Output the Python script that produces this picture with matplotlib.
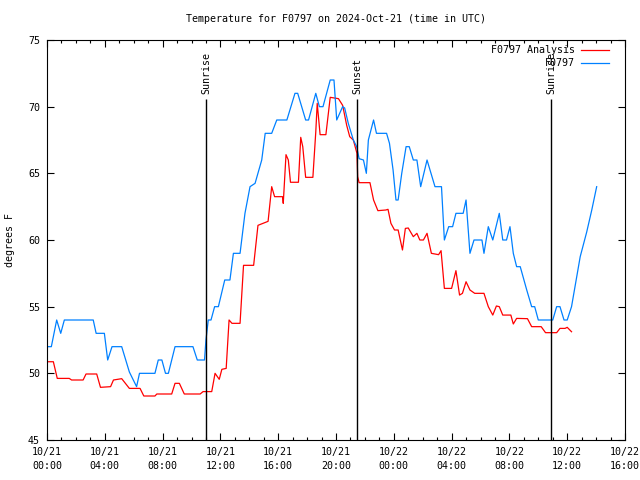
import matplotlib
matplotlib.use("Agg")
import matplotlib.pyplot as plt
import matplotlib.dates as mdates
import pandas as pd

# ---- data (hours after 2024-10-21 00:00 UTC, degrees F) ----
obs_hours = [0.0, 0.3, 0.67, 0.95, 1.2, 3.2, 3.4, 3.97, 4.2, 4.5, 5.17, 5.7, 6.2, 6.4,
             7.47, 7.7, 7.95, 8.2, 8.4, 8.86, 10.1, 10.4, 10.9, 11.0, 11.16, 11.35, 11.6,
             11.86, 12.3, 12.66, 12.9, 13.36, 13.7, 14.05, 14.4, 14.86, 15.1, 15.55, 15.9,
             16.6, 17.16, 17.35, 17.9, 18.1, 18.6, 18.85, 19.1, 19.6, 19.86, 20.05, 20.46,
             20.6, 20.85, 21.2, 21.43, 21.6, 21.9, 22.1, 22.24, 22.6, 22.8, 23.5, 23.7,
             23.95, 24.15, 24.3, 24.55, 24.85, 25.07, 25.35, 25.6, 25.86, 26.3, 26.85,
             27.3, 27.5, 27.8, 28.07, 28.3, 28.8, 29.0, 29.27, 29.55, 30.1, 30.24, 30.54,
             30.85, 31.3, 31.54, 31.8, 32.04, 32.27, 32.5, 32.75, 33.2, 33.54, 33.75, 34.0,
             35.0, 35.27, 35.5, 35.78, 36.0, 36.3, 36.9, 37.35, 37.7, 38.04]
obs_temp = [52, 52, 54, 53, 54, 54, 53, 53, 51, 52, 52, 50.1, 49, 50,
            50, 51, 51, 50, 50, 52, 52, 51, 51, 52.5, 54, 54, 55,
            55, 57, 57, 59, 59, 62, 64, 64.25, 66, 68, 68, 69,
            69, 71, 71, 69, 69, 71, 70, 70, 72, 72, 69, 70,
            69.9, 68.75, 67.5, 67, 66.1, 66, 65, 67.5, 69, 68, 68, 67.25,
            65.25, 63, 63, 65, 67, 67, 66, 66, 64, 66, 64,
            64, 60, 61, 61, 62, 62, 63, 59, 60, 60, 59, 61,
            60, 62, 60, 60, 61, 59, 58, 58, 56.25, 55, 55, 54,
            54, 55, 55, 54, 54, 55, 58.75, 60.6, 62.25, 64]

ana_hours = [0.0, 0.44, 0.71, 1.54, 1.7, 2.5, 2.7, 3.44, 3.7, 4.4, 4.6, 5.17, 5.7, 6.44,
             6.7, 7.47, 7.6, 8.63, 8.86, 9.16, 9.5, 10.6, 10.8, 11.4, 11.63, 11.92, 12.1,
             12.4, 12.6, 12.8, 13.36, 13.6, 14.3, 14.6, 15.3, 15.55, 15.75, 16.3, 16.35,
             16.54, 16.7, 16.85, 17.4, 17.56, 17.7, 17.9, 18.4, 18.6, 18.7, 18.9, 19.3,
             19.6, 20.17, 20.46, 20.74, 20.95, 21.2, 21.45, 21.5, 21.6, 22.35, 22.6, 22.9,
             23.45, 23.6, 23.8, 24.05, 24.3, 24.6, 24.8, 25.0, 25.35, 25.6, 25.8, 26.05,
             26.3, 26.6, 27.1, 27.27, 27.5, 28.0, 28.3, 28.55, 28.75, 29.0, 29.27, 29.6,
             30.24, 30.54, 30.85, 31.1, 31.3, 31.54, 32.1, 32.27, 32.5, 33.25, 33.54, 34.2,
             34.5, 35.27, 35.5, 35.85, 36.0, 36.3]
ana_temp = [50.87, 50.87, 49.62, 49.62, 49.5, 49.5, 49.95, 49.95, 48.95, 49.0, 49.5, 49.6,
            48.87, 48.87, 48.3, 48.3, 48.45, 48.45, 49.25, 49.25, 48.45, 48.45, 48.63,
            48.63, 50.0, 49.55, 50.3, 50.37, 54.0, 53.75, 53.75, 58.1, 58.1, 61.1, 61.4,
            64.0, 63.25, 63.25, 62.75, 66.4, 66.0, 64.33, 64.33, 67.7, 67.0, 64.7, 64.7,
            68.1, 70.25, 67.9, 67.9, 70.7, 70.6, 70.1, 68.6, 67.75, 67.5, 66.5, 64.75,
            64.3, 64.3, 63.0, 62.2, 62.25, 62.3, 61.25, 60.75, 60.75, 59.25, 60.87, 60.9,
            60.25, 60.5, 60.0, 60.0, 60.5, 59.0, 58.9, 59.2, 56.37, 56.37, 57.7, 55.87,
            56.0, 56.87, 56.25, 56.0, 56.0, 55.0, 54.37, 55.05, 55.0, 54.37, 54.37, 53.7,
            54.12, 54.1, 53.5, 53.5, 53.05, 53.05, 53.37, 53.37, 53.45, 53.12]

sun_hours = [11.0, 21.45, 34.88]
sun_labels = ["Sunrise", "Sunset", "Sunrise"]
series_labels = ["F0797 Analysis", "F0797"]
series_colors = ["#ff0000", "#0080ff"]

base = pd.Timestamp("2024-10-21 00:00")
def to_time(hours):
    return [base + pd.Timedelta(hours=h) for h in hours]

plt.rcParams['font.family'] = ['DejaVu Sans Mono']
FS = 7.2

fig = plt.figure(figsize=(6.4, 4.8), dpi=100)
ax = fig.add_axes([47/640, 40/480, 578/640, 400/480])

ax.plot(to_time(ana_hours), ana_temp, color=series_colors[0], lw=0.9)
ax.plot(to_time(obs_hours), obs_temp, color=series_colors[1], lw=0.9)

ax.set_xlim(base, base + pd.Timedelta(hours=40))
ax.set_ylim(45, 75)

for h, lab in zip(sun_hours, sun_labels):
    t = base + pd.Timedelta(hours=h)
    ax.vlines(t, 45, 70.6, color='black', lw=1.0)
    ax.text(t, 70.95, lab, rotation=90, ha='center', va='bottom', fontsize=FS)

ax.xaxis.set_major_locator(mdates.HourLocator(byhour=range(0, 24, 4)))
ax.xaxis.set_minor_locator(mdates.HourLocator())
ax.xaxis.set_major_formatter(mdates.DateFormatter('%m/%d\n%H:%M'))
ax.set_yticks([45, 50, 55, 60, 65, 70, 75])
ax.tick_params(which='both', direction='in', top=True, right=True, labelsize=FS, width=0.8)
ax.tick_params(which='major', length=5, pad=5)
ax.tick_params(which='minor', length=2.5)
for lab in ax.get_xticklabels():
    lab.set_linespacing(1.5)
for s in ax.spines.values():
    s.set_linewidth(0.8)

# legend (gnuplot style, no frame, text right-aligned)
for i, (lab, col) in enumerate(zip(series_labels, series_colors)):
    y = 0.975 - i * 13 / 400
    ax.plot([0.924, 0.972], [y, y], transform=ax.transAxes, color=col, lw=0.9, clip_on=False)
    ax.text(0.9135, y, lab, transform=ax.transAxes, ha='right', va='center', fontsize=FS)

fig.text(336/640, 1 - 19/480, "Temperature for F0797 on 2024-Oct-21 (time in UTC)",
         ha='center', va='center', fontsize=FS)
fig.text(10/640, 1 - 240/480, "degrees F", rotation=90, ha='center', va='center', fontsize=FS)

fig.savefig("out.png", dpi=100)
